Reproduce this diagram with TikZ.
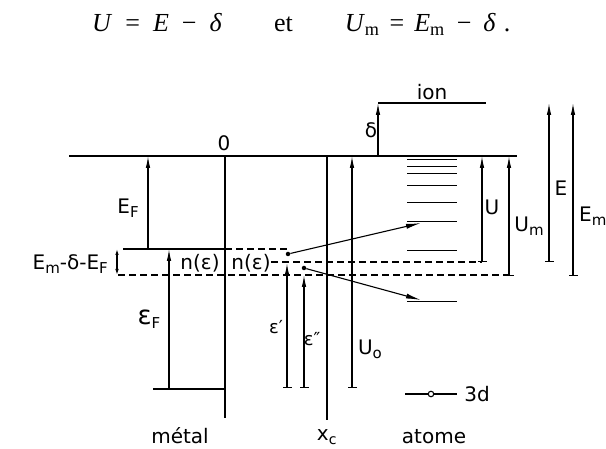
\documentclass[tikz,border=0pt]{standalone}
\usepackage{fontspec}
\setmainfont{DejaVu Sans}
\newfontfamily\timesf{Liberation Serif}
\usetikzlibrary{arrows.meta}
\newcommand\lsub[1]{\raisebox{-4pt}{\fontsize{15}{16}\selectfont #1}}
\begin{document}
\begin{tikzpicture}[x=1pt,y=-1pt,
  heavy/.style={line width=1.8pt},
  lvl/.style={line width=1.2pt},
  dashl/.style={line width=1.4pt, dash pattern=on 7pt off 4pt},
  arr/.style={line width=1.1pt, -{Latex[length=12pt,width=4.5pt]}},
  tarr/.style={line width=1.1pt, {Bar[width=9pt]}-{Latex[length=12pt,width=4.5pt]}},
  darr/.style={line width=1.1pt, {Latex[length=6pt,width=3.5pt]}-{Latex[length=6pt,width=3.5pt]}},
  lab/.style={font=\fontsize{20}{22}\selectfont, inner sep=0pt},
  slab/.style={font=\fontsize{18}{20}\selectfont, inner sep=0pt},
  dot/.style={circle, fill, inner sep=0pt, minimum size=4.5pt},
]
\useasboundingbox (0,0) rectangle (606,449);

% formula
\node[inner sep=0pt, anchor=base west] (formula) at (92,32) {\fontsize{26}{28}\timesf
  \textit{U}\hspace{13pt}=\hspace{13pt}\textit{E}\hspace{13pt}−\hspace{13pt}\textit{δ}\hspace{52pt}et\hspace{52pt}\textit{U}\textsubscript{m}\hspace{10pt}=\hspace{10pt}\textit{E}\textsubscript{m}\hspace{12pt}−\hspace{12pt}\textit{δ}\hspace{8pt}.};

% coordinates
\coordinate (vacL) at (69,156);
\coordinate (vacR) at (517,156);
\coordinate (wallT) at (225,156);
\coordinate (wallB) at (225,418);
\coordinate (xcT) at (327,156);
\coordinate (xcB) at (327,420);
\coordinate (fermiL) at (123,249);
\coordinate (fermiR) at (225,249);
\coordinate (botL) at (153,389);
\coordinate (botR) at (225,389);
\coordinate (ionL) at (378,103);
\coordinate (ionR) at (486,103);

% main lines
\draw[heavy] (vacL) -- (vacR);
\draw[heavy] (wallT) -- (wallB);
\draw[heavy] (xcT) -- (xcB);
\draw[heavy] (ionL) -- (ionR);
\draw[lvl] (fermiL) -- (fermiR);
\draw[lvl] (botL) -- (botR);

% dashed levels
\draw[dashl] (fermiR) -- (290,249);
\draw[dashl] (271,262) -- (482,262);
\draw[dashl] (118,275) -- (513,275);

% atomic levels
\foreach \y in {160,167,174,186,203,222,251,302}
  \draw[line width=1pt] (407,\y) -- (457,\y);
\draw[lvl] (405,394) -- (457,394);
\node[circle, draw, fill=white, line width=1.1pt, inner sep=0pt, minimum size=5.5pt] (ring) at (431,394) {};

% arrows
\draw[arr] (148,249) -- (148,156);
\draw[arr] (169,389) -- (169,249);
\draw[darr] (117,249) -- (117,275);
\draw[arr] (378,156) -- (ionL);
\draw[tarr] (287,388) -- (287,263);
\draw[tarr] (304,388) -- (304,275);
\draw[tarr] (352,388) -- (352,156);
\draw[tarr] (482,262) -- (482,156);
\draw[tarr] (509,276) -- (509,156);
\draw[tarr] (549,262) -- (549,103);
\draw[tarr] (573,276) -- (573,103);

% dots and transitions
\node[dot] (d1) at (288,254) {};
\node[dot] (d2) at (304,268) {};
\draw[line width=1.1pt, -{Latex[length=15pt,width=5pt]}] (d1) -- (421,223);
\draw[line width=1.1pt, -{Latex[length=15pt,width=5pt]}] (d2) -- (421,300);

% labels
\node[lab] (zero) at (224,143) {0};
\node[lab] (EF) at (128,208) {E\lsub{F}};
\node[lab, anchor=east] (EmdEF) at (108,264) {E\lsub{m}-δ-E\lsub{F}};
\node[lab] (n1) at (200,263) {n(ε)};
\node[lab] (n2) at (251,263) {n(ε)};
\node[lab] (epsF) at (149,319) {{\fontsize{26}{28}\selectfont ε}\lsub{F}};
\node[slab] (eps1) at (276,327) {ε′};
\node[slab] (eps2) at (312,339) {ε″};
\node[lab] (U0) at (370,349) {U\lsub{o}};
\node[lab] (delta) at (371,130) {δ};
\node[lab] (ion) at (432,92) {ion};
\node[lab] (U) at (492,207) {U};
\node[lab] (Um) at (529,226) {U\lsub{m}};
\node[lab] (E) at (561,188) {E};
\node[lab, anchor=west] (Em) at (579,216) {E\lsub{m}};
\node[lab] (threed) at (477,394) {3d};
\node[lab, anchor=base] (metal) at (180,443) {métal};
\node[lab, anchor=base] (xc) at (327,441) {x\textsubscript{c}};
\node[lab, anchor=base] (atome) at (434,443) {atome};
\end{tikzpicture}
\end{document}
